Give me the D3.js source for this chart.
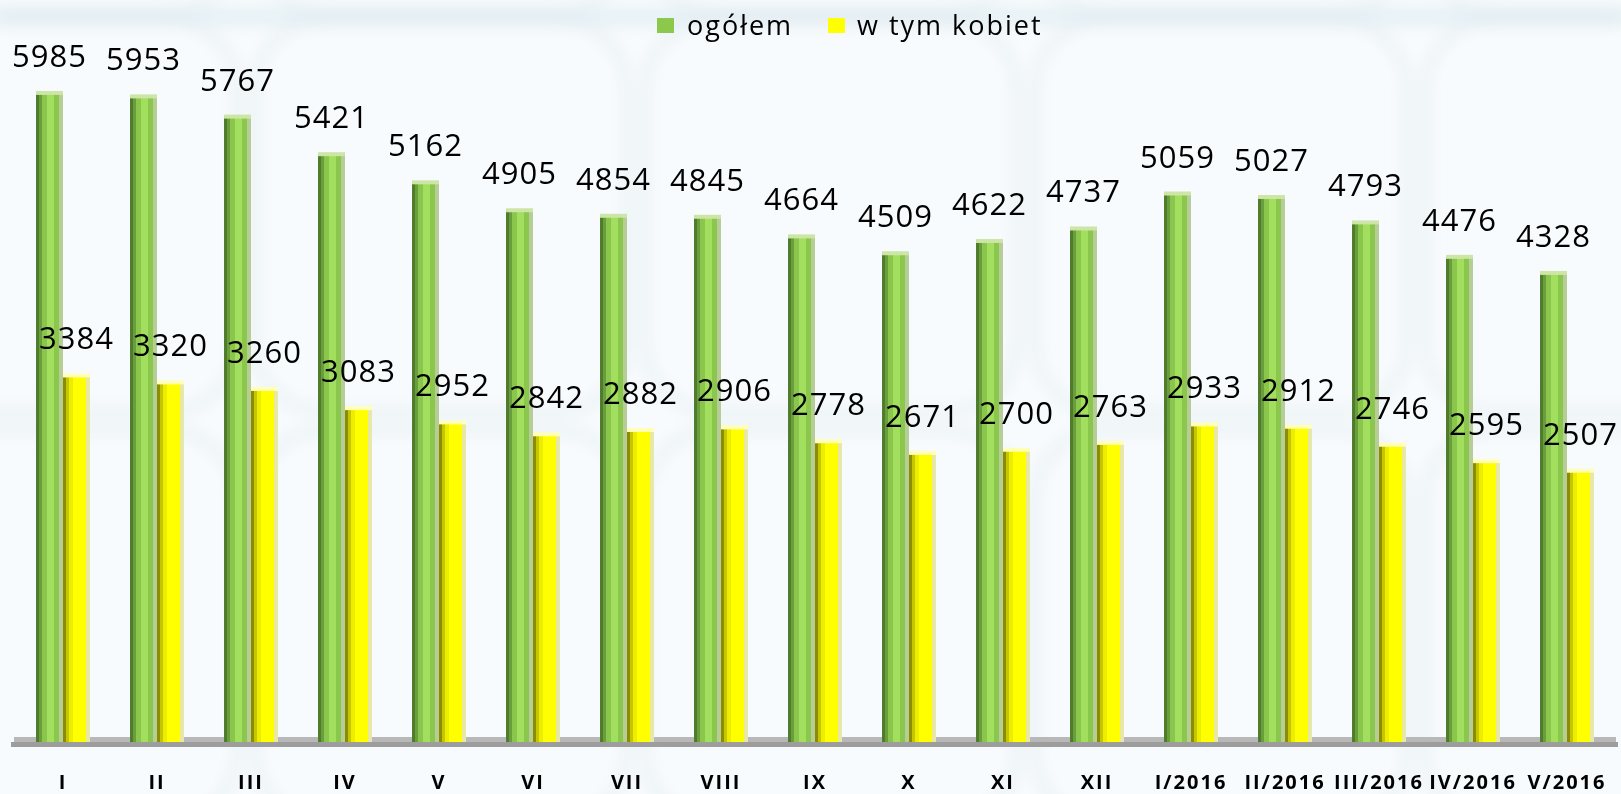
<!DOCTYPE html>
<html>
<head>
<meta charset="utf-8">
<script src="https://cdn.jsdelivr.net/npm/d3@7"></script>
<style>
  body { margin: 0; background: #f8fbfd; }
  svg { display: block; }
  .val { font-family: "Open Sans", "Noto Sans", sans-serif; font-size: 31px; fill: #000; letter-spacing: 1px; }
  .cat { font-family: "Open Sans", "Noto Sans", sans-serif; font-size: 20px; font-weight: bold; fill: #000; letter-spacing: 2px; }
  .leg { font-family: "Open Sans", "Noto Sans", sans-serif; font-size: 27px; fill: #000; letter-spacing: 2px; }
</style>
</head>
<body>
<div id="chart"></div>
<script>
var months = ['I','II','III','IV','V','VI','VII','VIII','IX','X','XI','XII','I/2016','II/2016','III/2016','IV/2016','V/2016'];
var ogolem = [5985,5953,5767,5421,5162,4905,4854,4845,4664,4509,4622,4737,5059,5027,4793,4476,4328];
var kobiety = [3384,3320,3260,3083,2952,2842,2882,2906,2778,2671,2700,2763,2933,2912,2746,2595,2507];
var seriesNames = ['ogółem', 'w tym kobiet'];

var width = 1621, height = 794;

var svg = d3.select('#chart').append('svg')
  .attr('width', width)
  .attr('height', height);

var defs = svg.append('defs');

defs.append('filter').attr('id', 'soft')
  .attr('x', '-20%').attr('y', '-20%').attr('width', '140%').attr('height', '140%')
  .append('feGaussianBlur').attr('stdDeviation', 7);

function stripes(id, stops) {
  var g = defs.append('linearGradient').attr('id', id)
    .attr('x1', '0%').attr('x2', '100%').attr('y1', '0%').attr('y2', '0%');
  stops.forEach(function(s) {
    g.append('stop').attr('offset', s[0]).attr('stop-color', s[2]);
    g.append('stop').attr('offset', s[1]).attr('stop-color', s[2]);
  });
}
stripes('gGreen', [
  [0, 0.1, '#4e7b2c'], [0.1, 0.24, '#6a9d3b'], [0.24, 0.4, '#8ac54c'],
  [0.4, 0.66, '#a3df5e'], [0.66, 0.86, '#8bc64d'], [0.86, 1, '#b6cd98']
]);
stripes('gYellow', [
  [0, 0.1, '#8c8c00'], [0.1, 0.22, '#c6c600'], [0.22, 0.38, '#eded00'],
  [0.38, 0.86, '#ffff00'], [0.86, 1, '#e8e8a6']
]);

// background tile pattern, very faint
var bg = svg.append('g').attr('filter', 'url(#soft)');
bg.append('rect').attr('x', 0).attr('y', 8).attr('width', width).attr('height', 18)
  .attr('fill', '#e2eef4').attr('opacity', 0.8);
[-135, 255, 645, 1035, 1425].forEach(function(x0) {
  [-380, 20, 430].forEach(function(y0) {
    bg.append('rect')
      .attr('x', x0).attr('y', y0)
      .attr('width', 372).attr('height', 392)
      .attr('rx', 70)
      .attr('fill', 'none')
      .attr('stroke', '#e0eaf0')
      .attr('stroke-width', 12)
      .attr('opacity', 0.45);
  });
});

var x0 = d3.scaleBand()
  .domain(months)
  .range([16, 1614])
  .paddingInner(0.426)
  .paddingOuter(0.213);

var x1 = d3.scaleBand()
  .domain(['ogolem', 'kobiety'])
  .range([0, x0.bandwidth()]);

var y = d3.scaleLinear()
  .domain([0, 6000])
  .range([742, 742 - 651.7]);

// floor
svg.append('rect').attr('x', 14).attr('y', 737).attr('width', 1602).attr('height', 5).attr('fill', '#b8b8b8');
svg.append('rect').attr('x', 11).attr('y', 742).attr('width', 1607).attr('height', 5).attr('fill', '#9d9d9d');

var rows = months.map(function(m, i) {
  return { m: m, vals: [
    { key: 'ogolem', v: ogolem[i], fill: 'url(#gGreen)', cap: '#cde5a6' },
    { key: 'kobiety', v: kobiety[i], fill: 'url(#gYellow)', cap: '#ffffb8' }
  ]};
});

var groups = svg.selectAll('g.grp')
  .data(rows)
  .enter().append('g')
  .attr('class', 'grp')
  .attr('transform', function(d) { return 'translate(' + x0(d.m) + ',0)'; });

var bars = groups.selectAll('g.bar')
  .data(function(d) { return d.vals; })
  .enter().append('g').attr('class', 'bar');

bars.append('rect')
  .attr('x', function(d) { return x1(d.key); })
  .attr('y', function(d) { return y(d.v); })
  .attr('width', x1.bandwidth())
  .attr('height', function(d) { return y(0) - y(d.v); })
  .attr('fill', function(d) { return d.fill; });

bars.append('rect')
  .attr('x', function(d) { return x1(d.key); })
  .attr('y', function(d) { return y(d.v) - 1; })
  .attr('width', x1.bandwidth())
  .attr('height', 4)
  .attr('fill', function(d) { return d.cap; });

bars.append('text')
  .attr('class', 'val')
  .attr('text-anchor', 'middle')
  .attr('x', function(d) { return x1(d.key) + x1.bandwidth() / 2; })
  .attr('y', function(d) { return y(d.v) - 25; })
  .text(function(d) { return d.v; });

// category labels
svg.selectAll('text.cat')
  .data(months)
  .enter().append('text')
  .attr('class', 'cat')
  .attr('text-anchor', 'middle')
  .attr('x', function(d) { return x0(d) + x0.bandwidth() / 2; })
  .attr('y', 789)
  .text(function(d) { return d; });

// legend
var legend = svg.append('g');
var legItems = [
  { name: seriesNames[0], color: '#8cc84b', x: 657, tx: 687 },
  { name: seriesNames[1], color: '#ffff00', x: 828, tx: 857 }
];
legItems.forEach(function(l) {
  legend.append('rect').attr('x', l.x).attr('y', 18).attr('width', 17).attr('height', 15).attr('fill', l.color);
  legend.append('text').attr('class', 'leg').attr('x', l.tx).attr('y', 35).text(l.name);
});
</script>
</body>
</html>
